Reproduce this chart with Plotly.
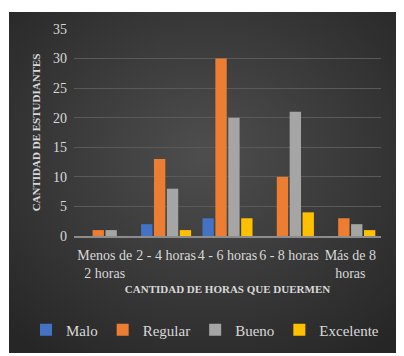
import plotly.graph_objects as go
import base64

categories = ["Menos de<br>2 horas", "2 - 4 horas", "4 - 6 horas", "6 - 8 horas", "Más de 8<br>horas"]
malo = [0, 2, 3, 0, 0]
regular = [1, 13, 30, 10, 3]
bueno = [1, 8, 20, 21, 2]
excelente = [0, 1, 3, 4, 1]

series = [("Malo", malo, "#4472C4"), ("Regular", regular, "#ED7D31"),
          ("Bueno", bueno, "#A5A5A5"), ("Excelente", excelente, "#FFC000")]

# page body has an 8px margin, so the figure is laid out 8px up/left
OFF = 8
W, H = 404 - OFF, 356 - OFF
L, T = 74 - OFF, 29 - OFF
pw, ph = 307, 207
R, B = W - L - pw, H - T - ph
FAM = "Liberation Serif, Times New Roman, serif"
TXT = "#d9d9d9"

fig = go.Figure()
for name, vals, col in series:
    fig.add_trace(go.Bar(x=categories, y=vals, name=name, marker_color=col,
                         marker_line_width=0))

svg = ('<svg xmlns="http://www.w3.org/2000/svg" width="391" height="341">'
       '<defs><radialGradient id="g" cx="50%" cy="42%" r="72%">'
       '<stop offset="0%" stop-color="#4e4e4e"/><stop offset="100%" stop-color="#262626"/>'
       '</radialGradient></defs><rect width="391" height="341" fill="url(#g)"/></svg>')
src = "data:image/svg+xml;base64," + base64.b64encode(svg.encode()).decode()

x0 = (9 - OFF - L) / pw
x1 = (400 - OFF - L) / pw
y1 = (T + ph - (12 - OFF)) / ph
y0 = (T + ph - (353 - OFF)) / ph
fig.add_layout_image(dict(source=src, xref="paper", yref="paper", x=x0, y=y1,
                          sizex=x1 - x0, sizey=y1 - y0, sizing="stretch",
                          xanchor="left", yanchor="top", layer="below"))

leg_x = (26 - OFF - L) / pw
leg_y = (T + ph - (330 - OFF)) / ph

fig.update_layout(
    width=W, height=H, margin=dict(l=L, r=R, t=T, b=B, autoexpand=False),
    paper_bgcolor="white", plot_bgcolor="rgba(0,0,0,0)",
    barmode="group", bargap=0.16, bargroupgap=0.12,
    font=dict(family=FAM, size=14, color=TXT),
    legend=dict(orientation="h", x=leg_x, xanchor="left", y=leg_y, yanchor="middle",
                font=dict(family=FAM, size=15, color=TXT),
                itemwidth=30, traceorder="normal", bgcolor="rgba(0,0,0,0)"),
    showlegend=True,
)
fig.update_yaxes(range=[0, 35], dtick=5, showgrid=True, gridcolor="#5a5a5a", gridwidth=1,
                 zeroline=False, showline=False, ticks="", automargin=False,
                 ticklabelstandoff=6,
                 tickfont=dict(family=FAM, size=14, color=TXT),
                 title=dict(text="<b>CANTIDAD DE ESTUDIANTES</b>", standoff=10,
                            font=dict(family=FAM, size=11, color=TXT)))
fig.update_xaxes(showgrid=False, showline=True, linecolor="#8c8c8c", linewidth=2,
                 ticks="", tickangle=0, automargin=False, ticklabelstandoff=5,
                 tickfont=dict(family=FAM, size=14, color=TXT),
                 title=dict(text="<b>CANTIDAD DE HORAS QUE DUERMEN</b>", standoff=5,
                            font=dict(family=FAM, size=11, color=TXT)))

fig.write_html("out.html")
